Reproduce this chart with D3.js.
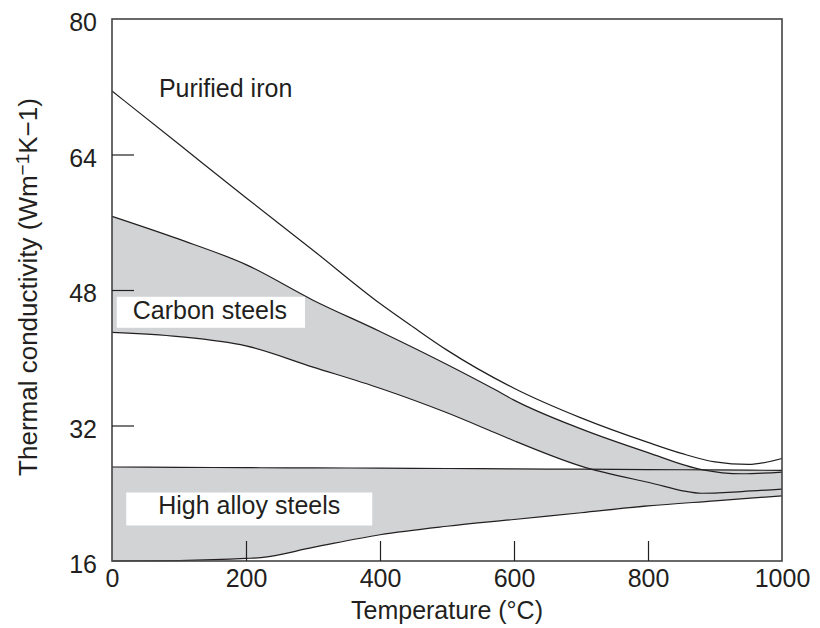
<!DOCTYPE html>
<html>
<head>
<meta charset="utf-8">
<script src="https://cdn.jsdelivr.net/npm/d3@7"></script>
<style>
  html, body { margin: 0; padding: 0; background: #fff; }
  svg text { font-family: "Liberation Sans", Arial, Helvetica, sans-serif; fill: #231f20; }
</style>
</head>
<body>
<svg id="chart" width="820" height="628"></svg>
<script>
// ---- data ----
const ironTemps = [0, 100, 200, 300, 400, 450, 500, 600, 700, 800, 850, 900, 950, 1000];
const ironK     = [71.5, 65.2, 58.9, 52.7, 46.4, 43.6, 40.9, 36.4, 32.9, 30.0, 28.7, 27.7, 27.4, 28.1];

const carbonTemps = [0, 100, 200, 300, 400, 500, 570, 600, 700, 800, 880, 940, 1000];
const carbonUpper = [56.7, 54.0, 51.0, 46.8, 43.1, 39.2, 36.3, 35.0, 31.6, 28.8, 26.8, 26.3, 26.5];
const carbonLower = [43.0, 42.5, 41.4, 38.9, 36.4, 33.5, 31.2, 30.2, 27.2, 25.3, 24.0, 24.2, 24.5];

const alloyTemps = [0, 100, 200, 222, 300, 400, 500, 600, 700, 800, 900, 1000];
const alloyUpper = [27.1, 27.06, 27.02, 27.01, 27.0, 26.96, 26.92, 26.88, 26.84, 26.8, 26.75, 26.7];
const alloyLower = [16.0, 16.05, 16.3, 16.4, 17.6, 19.1, 20.1, 20.9, 21.7, 22.5, 23.1, 23.7];

const xTicks = [0, 200, 400, 600, 800, 1000];
const yTicks = [16, 32, 48, 64, 80];

const labels = [
  { text: "Purified iron",     t: 70, k: 70.8 },
  { text: "Carbon steels",     t: 31, k: 44.6 },
  { text: "High alloy steels", t: 69, k: 21.55 }
];

// ---- layout ----
const svg = d3.select("#chart");
const x = d3.scaleLinear().domain([0, 1000]).range([112, 782]);
const y = d3.scaleLinear().domain([16, 80]).range([561, 19]);
const FS = 25;
const ink = "#231f20";
const gray = "#d1d3d4";
// white label boxes: [padLeft, padRight, above baseline, below baseline]
const boxPad = [null, [16, 18, 22, 9], [32, 32, 21.5, 11.5]];

const area = (T, lo, hi) => d3.area()
  .x((d, i) => x(T[i])).y0((d, i) => y(lo[i])).y1((d, i) => y(hi[i]))
  .curve(d3.curveMonotoneX)(T);
const line = (T, V) => d3.line()
  .x((d, i) => x(T[i])).y((d, i) => y(V[i]))
  .curve(d3.curveMonotoneX)(T);

// fills
svg.append("path").attr("d", area(alloyTemps, alloyLower, alloyUpper)).attr("fill", gray);
svg.append("path").attr("d", area(carbonTemps, carbonLower, carbonUpper)).attr("fill", gray);

// lines
[[alloyTemps, alloyUpper], [alloyTemps, alloyLower],
 [carbonTemps, carbonUpper], [carbonTemps, carbonLower],
 [ironTemps, ironK]].forEach(([T, V]) => {
  svg.append("path").attr("d", line(T, V))
    .attr("fill", "none").attr("stroke", ink).attr("stroke-width", 1.2);
});

// frame
svg.append("rect")
  .attr("x", x(0)).attr("y", y(80))
  .attr("width", x(1000) - x(0)).attr("height", y(16) - y(80))
  .attr("fill", "none").attr("stroke", "#444").attr("stroke-width", 1.6);

// axes with inward ticks
const xAxis = svg.append("g").attr("transform", `translate(0,${y(16)})`)
  .call(d3.axisBottom(x).tickValues(xTicks).tickSizeInner(-20).tickSizeOuter(0).tickPadding(8).tickFormat(d3.format("d")));
xAxis.select(".domain").remove();
xAxis.selectAll(".tick line").attr("stroke", ink).attr("stroke-width", 1.2)
  .filter(d => d === 0 || d === 1000).remove();
xAxis.selectAll(".tick text").attr("font-size", FS).attr("fill", ink)
  .attr("y", 0).attr("dy", "1.04em");

const yAxis = svg.append("g").attr("transform", `translate(${x(0)},0)`)
  .call(d3.axisLeft(y).tickValues(yTicks).tickSizeInner(-22).tickSizeOuter(0).tickPadding(0).tickFormat(d3.format("d")));
yAxis.select(".domain").remove();
yAxis.selectAll(".tick line").attr("stroke", ink).attr("stroke-width", 1.2)
  .filter(d => d === 16 || d === 80).remove();
yAxis.selectAll(".tick text").attr("font-size", FS).attr("fill", ink)
  .attr("x", -15).attr("dy", "0.47em");

// axis titles
svg.append("text").attr("x", (x(0) + x(1000)) / 2).attr("y", 619)
  .attr("text-anchor", "middle").attr("font-size", FS)
  .text("Temperature (°C)");

const yt = svg.append("text")
  .attr("transform", `translate(37,${(y(16) + y(80)) / 2 - 3}) rotate(-90)`)
  .attr("text-anchor", "middle").attr("font-size", 26);
yt.append("tspan").text("Thermal conductivity (Wm");
yt.append("tspan").attr("dy", -8).attr("font-size", 19).text("−1");
yt.append("tspan").attr("dy", 8).text("K−1)");

// series labels
labels.forEach((l, i) => {
  const g = svg.append("g");
  const bx = x(l.t), by = y(l.k);
  const t = g.append("text").attr("x", bx).attr("y", by)
    .attr("font-size", FS).text(l.text);
  const p = boxPad[i];
  if (p) {
    const w = t.node().getComputedTextLength();
    g.insert("rect", "text")
      .attr("x", bx - p[0]).attr("y", by - p[2])
      .attr("width", w + p[0] + p[1]).attr("height", p[2] + p[3])
      .attr("fill", "#fff");
  }
});
</script>
</body>
</html>
